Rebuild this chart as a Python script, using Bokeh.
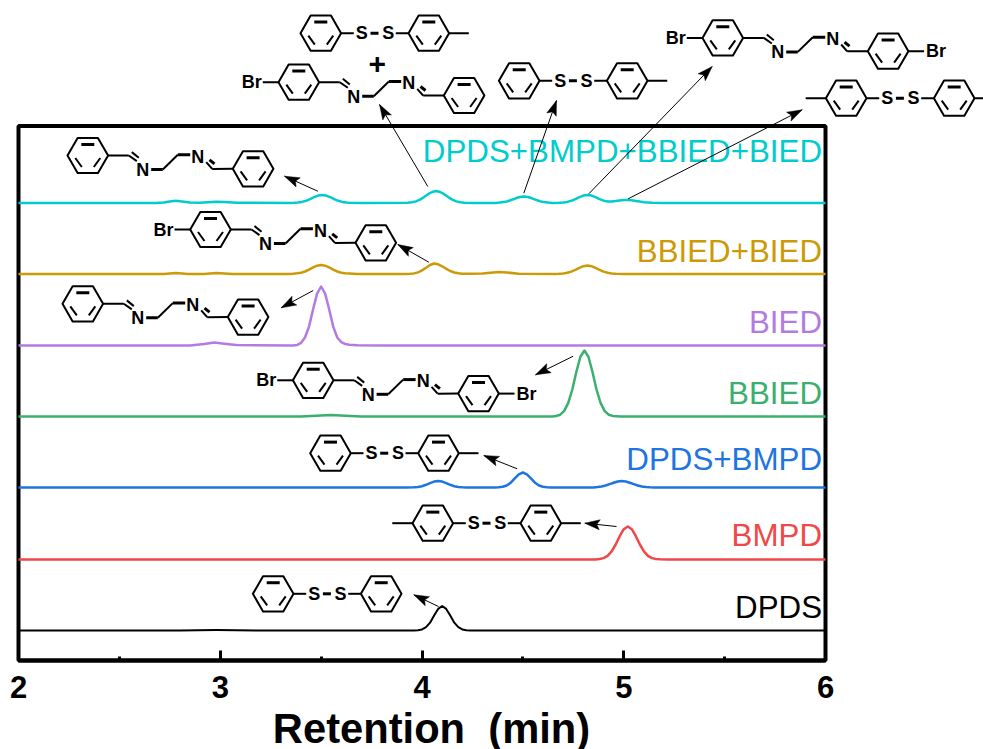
from bokeh.core.properties import value
from bokeh.embed import file_html
from bokeh.resources import INLINE
from bokeh.plotting import figure
from bokeh.models import FixedTicker

FONT = "Liberation Sans"

# ---- chromatogram data: retention (min) and signal height above each trace's own baseline
t_dpds = [2.0, 2.8, 2.98, 3.2, 3.96, 3.98, 4.0, 4.02, 4.04, 4.06, 4.08, 4.1, 4.12, 4.14, 4.16, 4.18, 4.2, 4.22, 4.24, 6.0]
v_dpds = [0, 0, .4, 0, 0, .3, 1.1, 3.3, 7.8, 15, 21.6, 24.5, 21.6, 15, 7.8, 3.3, 1.1, .3, 0, 0]
t_bmpd = [2.0, 4.86, 4.88, 4.9, 4.92, 4.94, 4.96, 4.98, 5.0, 5.02, 5.04, 5.06, 5.08, 5.1, 5.12, 5.14, 5.16, 5.18, 5.22, 6.0]
v_bmpd = [0, 0, .5, 1.4, 3.7, 8.1, 15, 23.3, 30.3, 33, 30.3, 23.3, 15, 8.1, 3.7, 1.4, .5, .2, 0, 0]
t_mix2 = [2.0, 3.92, 3.96, 3.98, 4.0, 4.02, 4.04, 4.06, 4.08, 4.1, 4.12, 4.14, 4.16, 4.18, 4.2, 4.22, 4.24, 4.28,
          4.36, 4.38, 4.4, 4.42, 4.44, 4.46, 4.48, 4.5, 4.52, 4.54, 4.56, 4.58, 4.6, 4.62, 4.64, 4.68,
          4.82, 4.85, 4.87, 4.89, 4.91, 4.93, 4.95, 4.97, 4.99, 5.01, 5.03, 5.05, 5.07, 5.09, 5.11, 5.13, 5.15, 5.2, 6.0]
v_mix2 = [0, 0, .2, .55, 1.3, 2.7, 4.4, 5.9, 6.5, 5.9, 4.4, 2.7, 1.3, .55, .2, .1, 0, 0,
          0, .2, .7, 2, 4.8, 9.2, 13.2, 15, 13.2, 9.2, 4.8, 2, .7, .2, 0, 0,
          0, .1, .4, 1, 2, 3.4, 4.8, 6, 6.5, 6, 4.8, 3.4, 2, 1, .4, .2, .1, 0, 0]
t_bbied = [2.0, 3.4, 3.5, 3.55, 3.62, 3.7, 4.645, 4.665, 4.685, 4.705, 4.725, 4.745, 4.765, 4.785, 4.805, 4.825, 4.845, 4.865, 4.885, 4.905, 4.925, 4.945, 4.985, 6.0]
v_bbied = [0, 0, 1, 1.5, .8, 0, 0, .5, 1.8, 5.6, 13.6, 27, 44.5, 59.8, 66, 59.8, 44.5, 27, 13.6, 5.6, 1.8, .6, 0, 0]
t_bied = [2.0, 2.85, 2.92, 2.97, 3.02, 3.08, 3.36, 3.38, 3.4, 3.42, 3.44, 3.46, 3.48, 3.5, 3.52, 3.54, 3.56, 3.58, 3.6, 3.62, 3.64, 3.68, 3.8, 6.0]
v_bied = [0, 0, 1.5, 3, 1.8, .4, 0, .4, 2.6, 8, 18.9, 36, 51.9, 59, 51.9, 36, 18.9, 8, 3.4, 1.4, .7, .3, 0, 0]
t_bbb = [2.0, 2.72, 2.78, 2.84, 2.92, 2.98, 3.06, 3.34, 3.36, 3.38, 3.4, 3.42, 3.44, 3.46, 3.48, 3.5, 3.52, 3.54, 3.56, 3.58, 3.6, 3.62, 3.68,
         3.92, 3.94, 3.96, 3.98, 4.0, 4.02, 4.04, 4.06, 4.08, 4.1, 4.12, 4.14, 4.16, 4.18, 4.2, 4.24,
         4.3, 4.34, 4.38, 4.42, 4.48, 4.66, 4.68, 4.7, 4.72, 4.74, 4.76, 4.78, 4.8, 4.82, 4.84, 4.86, 4.88, 4.9, 4.92, 4.94, 4.96, 5.0, 6.0]
v_bbb = [0, 0, 1, 0, 0, 1, 0, 0, .2, .7, 1.3, 2.5, 4.4, 6.6, 8.3, 9, 8.3, 6.6, 4.4, 2.5, 1.3, .7, 0,
         0, .2, .6, 1.6, 3.6, 6.2, 9, 10.5, 9.7, 7.7, 5.2, 3, 1.5, .7, .3, .2,
         .5, 1.2, 2, 1.5, .3, 0, .2, .6, 1.2, 2.4, 4.2, 6.2, 7.8, 8.5, 7.8, 6.2, 4.2, 2.4, 1.2, .6, .2, 0, 0]
t_all = [2.0, 2.68, 2.72, 2.75, 2.78, 2.81, 2.85, 2.9, 2.94, 2.98, 3.02, 3.08, 3.35, 3.365, 3.385, 3.405, 3.425, 3.445, 3.465, 3.485, 3.505, 3.525, 3.545, 3.565, 3.585, 3.605, 3.625, 3.645, 3.7,
         3.93, 3.95, 3.97, 3.99, 4.01, 4.03, 4.05, 4.07, 4.09, 4.11, 4.13, 4.15, 4.17, 4.19, 4.21, 4.26,
         4.365, 4.385, 4.405, 4.425, 4.445, 4.465, 4.485, 4.505, 4.525, 4.545, 4.565, 4.585, 4.605, 4.625, 4.645,
         4.68, 4.7, 4.72, 4.74, 4.76, 4.78, 4.8, 4.82, 4.84, 4.86, 4.88, 4.9, 4.92, 4.94, 4.96, 4.98, 5.0, 5.02, 5.04, 5.06, 5.08, 5.1, 5.14, 5.2, 6.0]
v_all = [0, 0, .6, 1.6, 2.2, 1.6, .5, .2, .7, 1.3, .9, .2, 0, .15, .45, 1.1, 2.2, 3.9, 5.8, 7.4, 8, 7.4, 5.8, 3.9, 2.2, 1.1, .45, .15, 0,
         .2, .7, 1.6, 3.4, 5.9, 8.8, 11, 12, 11, 8.8, 5.9, 3.4, 1.6, .7, .2, 0,
         .1, .4, .9, 1.8, 3.2, 4.7, 6, 6.5, 6, 4.7, 3.2, 1.8, .9, .4, .1,
         .15, .45, 1.1, 2.2, 3.9, 5.8, 7.4, 8, 7.4, 5.8, 3.9, 2.4, 1.5, 1.4, 1.9, 2.6, 3, 3, 2.7, 2.1, 1.4, .8, .3, 0, 0]

names = ["DPDS", "BMPD", "DPDS+BMPD", "BBIED", "BIED", "BBIED+BIED", "DPDS+BMPD+BBIED+BIED"]
colors = ["#000000", "#F04848", "#1E74E0", "#3BB06E", "#B37BE2", "#CC9A06", "#00CCCC"]
times = [t_dpds, t_bmpd, t_mix2, t_bbied, t_bied, t_bbb, t_all]
signals = [v_dpds, v_bmpd, v_mix2, v_bbied, v_bied, v_bbb, v_all]
offsets = [30, 101, 173, 244, 315, 386.5, 457.5]
label_center_px = [607, 535, 459, 393, 322, 251, 151]

x_ticks = [2, 3, 4, 5, 6]
x_minor = [2.5, 3.5, 4.5, 5.5]

# the axes box of the reference, in picture pixels; the frame fills the canvas so
# the molecule sketches around the box can be drawn as ordinary glyphs
L, R, T, B = 18.0, 825.0, 125.5, 660.0
W, HT = 983, 749
PX = (R - L) / 4.0
def X(px): return 2 + (px - L) / PX
def Y(py): return B - py

p = figure(width=W, height=HT, output_backend="svg", toolbar_location=None,
           x_range=(X(0), X(W)), y_range=(Y(HT), Y(0)),
           min_border=0, background_fill_color="white", border_fill_color="white")
p.grid.visible = False
p.yaxis.visible = False
p.outline_line_color = None
p.quad(left=[2], right=[6], bottom=[0], top=[B - T], fill_alpha=0, line_color="black", line_width=4)

ax = p.xaxis[0]
ax.fixed_location = 0
ax.bounds = (2, 6)
ax.ticker = FixedTicker(ticks=x_ticks, minor_ticks=x_minor)
ax.axis_line_width = 4
ax.axis_line_color = "black"
ax.major_tick_in = 10
ax.major_tick_out = 0
ax.major_tick_line_width = 3
ax.minor_tick_in = 4
ax.minor_tick_out = 0
ax.minor_tick_line_width = 3
ax.major_label_text_font = FONT
ax.major_label_text_font_style = "bold"
ax.major_label_text_font_size = "31px"
ax.major_label_text_color = "black"
ax.major_label_standoff = 15

for t, v, off, c in zip(times, signals, offsets, colors):
    p.line(t, [off + a for a in v], line_color=c, line_width=2.5 if c != "#000000" else 2,
           line_join="round")

def text(x, y, s, size, color="black", bold=False, align="center"):
    p.text([X(x)], [Y(y)], text=[s], text_align=align, text_baseline="middle",
           text_font=value(FONT), text_font_style="bold" if bold else "normal",
           text_font_size=value(size), text_color=color)

for n, c, y in zip(names, colors, label_center_px):
    text(821.5, y, n, "31.3px", c, align="right")

text(431, 728, "Retention \u00a0(min)", "41.7px", bold=True)

# ---- molecule sketches
RING_R = 20.3
H = RING_R * 0.866
thin, thick, atoms, rings = [], [], [], []

def ring(cx, cy):
    rings.append((cx, cy))
    thick.append((cx - 6.5, cy - H + 6.5, cx + 6.5, cy - H + 6.5))
    thin.append((cx - 12.5, cy + 2.5, cx - 6, cy + 11.5))
    thin.append((cx + 12.5, cy + 2.5, cx + 6, cy + 11.5))

def atom(x, y, s):
    atoms.append((x, y, s))

def diimine(cx, cy, br_left, br_right, dy=13.3):
    ring(cx, cy)
    r2x = cx + 165.3
    r2y = cy + dy
    ring(r2x, r2y)
    thin.extend([(cx + RING_R, cy, cx + 41, cy), (cx + 41, cy, cx + 49, cy + 5.6),
                 (cx + 44, cy - 3.4, cx + 51, cy + 2.3),
                 (cx + 75, cy + 14, cx + 90, cy - .7),
                 (cx + 118.4, cy + 6.6, cx + 124.4, cy + 13.4),
                 (cx + 124.4, cy + 13.4, r2x - RING_R, r2y)])
    thick.extend([(cx + 63.4, cy + 14, cx + 75, cy + 14), (cx + 90, cy - .7, cx + 102.4, cy - .7),
                  (cx + 121.7, cy + 4.3, cx + 126.7, cy + 8.3)])
    atom(cx + 55, cy + 14.3, "N")
    atom(cx + 110, cy + 1, "N")
    if br_left:
        thin.append((cx - RING_R, cy, cx - 36, cy))
        atom(cx - 47, cy, "Br")
    if br_right:
        thin.append((r2x + RING_R, r2y, r2x + 36, r2y))
        atom(r2x + 48, r2y, "Br")

def disulfide(cx, cy, me_left, me_right):
    ring(cx, cy)
    r2x = cx + 108
    ring(r2x, cy)
    thin.extend([(cx + RING_R, cy, cx + 33, cy), (r2x - RING_R, cy, cx + 75, cy)])
    thick.append((cx + 49.7, cy, cx + 57.7, cy))
    atom(cx + 41, cy, "S")
    atom(cx + 67.4, cy, "S")
    if me_left:
        thin.append((cx - RING_R, cy, cx - 40.5, cy))
    if me_right:
        thin.append((r2x + RING_R, cy, r2x + 40, cy))

# ring-centre placement, with which end carries a bromine / a methyl
diimine_sites = [(87.3, 155, False, False), (210, 229, True, False), (82.3, 303.3, False, False),
                 (312.7, 379.8, True, True), (298.3, 81.7, True, False), (722.3, 37.4, True, True)]
disulfide_sites = [(320.3, 32.7, False, True), (518.7, 80.3, False, True), (845.7, 97.7, True, True),
                   (330, 452.7, False, True), (432.3, 522.7, True, True), (272.7, 593.3, False, False)]
for s in diimine_sites:
    diimine(*s)
for s in disulfide_sites:
    disulfide(*s)

# annotation arrows: tail -> tip
arrows = [(438, 606, 413.3, 594.3), (616, 526, 584.3, 522.7), (516.7, 468.3, 483.3, 455),
          (572.7, 355.7, 535, 374.3), (312.7, 290, 280.7, 307.3), (428.3, 261.7, 397.3, 244),
          (317.3, 190.7, 284, 175.7), (427.3, 186, 379, 104), (523.3, 192.7, 556, 100),
          (588.3, 193.3, 711.7, 66), (627.7, 198.3, 801.7, 109.3)]

def segs(rows, width):
    p.segment([X(r[0]) for r in rows], [Y(r[1]) for r in rows],
              [X(r[2]) for r in rows], [Y(r[3]) for r in rows],
              line_color="black", line_width=width)

segs(thin, 2)
segs(thick, 3)
segs(arrows, 1)

p.patches([[X(cx - RING_R), X(cx - RING_R / 2), X(cx + RING_R / 2), X(cx + RING_R), X(cx + RING_R / 2), X(cx - RING_R / 2)]
           for cx, cy in rings],
          [[Y(cy), Y(cy - H), Y(cy - H), Y(cy), Y(cy + H), Y(cy + H)] for cx, cy in rings],
          fill_alpha=0, line_color="black", line_width=2, line_join="round")

heads_x, heads_y = [], []
for x0, y0, x1, y1 in arrows:
    dx, dy = x1 - x0, y1 - y0
    n = (dx * dx + dy * dy) ** .5
    ux, uy = dx / n, dy / n
    hl, hw, nt = 15.0, 5.0, 12.0
    pts = [(x1, y1), (x1 - ux * hl - uy * hw, y1 - uy * hl + ux * hw), (x1 - ux * nt, y1 - uy * nt),
           (x1 - ux * hl + uy * hw, y1 - uy * hl - ux * hw)]
    heads_x.append([X(a) for a, b in pts])
    heads_y.append([Y(b) for a, b in pts])
p.patches(heads_x, heads_y, fill_color="black", line_color="black", line_width=.5)

for x, y, s in atoms:
    text(x, y, s, "18px", bold=True)
text(376.7, 63.5, "+", "30px", bold=True)

open("out.html", "w").write(file_html(p, INLINE))
